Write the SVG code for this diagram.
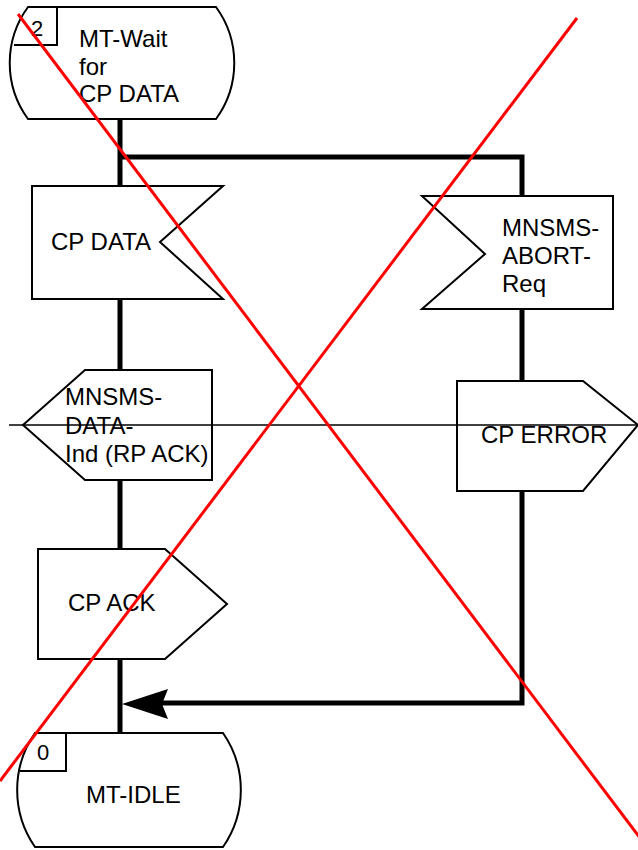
<svg xmlns="http://www.w3.org/2000/svg" width="638" height="850" viewBox="0 0 638 850">
<style>
.sh{fill:#fff;stroke:#000;stroke-width:2}
.t{font-family:"Liberation Sans",Arial,sans-serif;font-size:24px;fill:#000}
.n{font-family:"Liberation Sans",Arial,sans-serif;font-size:22px;fill:#000}
.c{fill:none;stroke:#000;stroke-width:5}
</style>
<rect width="638" height="850" fill="#fff"/>
<g id="connectors">
<path class="c" d="M120,119 V186"/>
<path class="c" d="M120,157 H522 V196"/>
<path class="c" d="M120,299 V370"/>
<path class="c" d="M522,309 V381"/>
<path class="c" d="M120,480 V549"/>
<path class="c" d="M522,491 V703 H150"/>
<path class="c" d="M120,659 V733"/>
<polygon points="122,704 168,689 162,704 168,719" fill="#000"/>
</g>
<g id="state2">
<path class="sh" d="M28,7 H216 A95,95 0 0 1 216,119 H28 A95,95 0 0 1 28,7 Z"/>
<path fill="none" stroke="#000" stroke-width="2" d="M14,45 H57 V7"/>
<text class="n" x="31" y="36">2</text>
<text class="t" x="79" y="47">MT-Wait</text>
<text class="t" x="79" y="75">for</text>
<text class="t" x="79" y="102">CP DATA</text>
</g>
<g id="cpdata">
<polygon class="sh" points="32,186 223,186 160,242 223,299 32,299"/>
<text class="t" x="51" y="250">CP DATA</text>
</g>
<g id="abort">
<polygon class="sh" points="422,196 613,196 613,309 422,309 485,254"/>
<text class="t" x="502" y="236">MNSMS-</text>
<text class="t" x="502" y="264">ABORT-</text>
<text class="t" x="502" y="292">Req</text>
</g>
<g id="dataind">
<polygon class="sh" points="85,370 212,370 212,480 85,480 23,425"/>
<text class="t" x="65" y="405">MNSMS-</text>
<text class="t" x="65" y="434">DATA-</text>
<text class="t" x="65" y="462">Ind (RP ACK)</text>
</g>
<g id="cperror">
<polygon class="sh" points="457,381 583,381 638,425 583,491 457,491"/>
<text class="t" x="481" y="443">CP ERROR</text>
</g>
<g id="cpack">
<polygon class="sh" points="38,549 165,549 227,604 165,659 38,659"/>
<text class="t" x="68" y="611">CP ACK</text>
</g>
<g id="idle">
<path class="sh" d="M35,733 H223 A100,100 0 0 1 223,847 H35 A100,100 0 0 1 35,733 Z"/>
<path fill="none" stroke="#000" stroke-width="2" d="M20,771 H66 V733"/>
<text class="n" x="37" y="760">0</text>
<text class="t" x="86" y="803">MT-IDLE</text>
</g>
<line x1="9" y1="425" x2="638" y2="425" stroke="#000" stroke-width="1.5"/>
<g id="cross" stroke="#f00" stroke-width="3">
<line x1="18" y1="14" x2="640" y2="838"/>
<line x1="577" y1="18" x2="0" y2="781"/>
</g>
</svg>
